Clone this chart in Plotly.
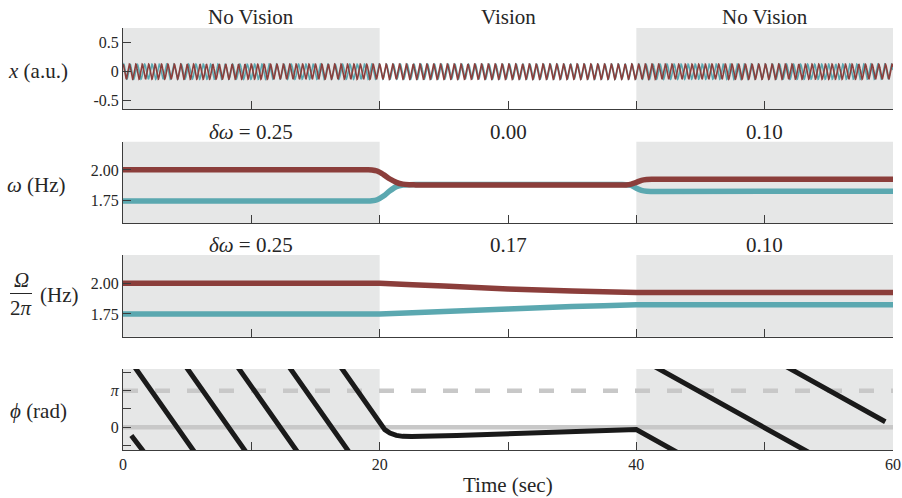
import numpy as np
import plotly.graph_objects as go

# ---------------- data ----------------
epoch_centers = [10, 30, 50]
epoch_titles = ["No Vision", "Vision", "No Vision"]
shaded_epochs = [(0, 20), (40, 60)]
dw_omega_text = ["<i>δω</i> = 0.25", "0.00", "0.10"]
dw_Omega_text = ["<i>δω</i> = 0.25", "0.17", "0.10"]

# instantaneous frequency omega (Hz)
omega_t_red = [0, 18.6, 19.0, 19.4, 19.8, 20.3, 20.8, 21.3, 21.8, 22.3, 22.8, 38.4, 38.8, 39.2,
               39.6, 40.0, 40.4, 40.8, 41.2, 41.6, 60]
omega_red = [2.001, 2.001, 2.001, 2.000, 1.991, 1.962, 1.926, 1.899, 1.884, 1.879, 1.878, 1.878, 1.878,
             1.878, 1.884, 1.899, 1.915, 1.922, 1.924, 1.924, 1.924]
omega_t_teal = [0, 18.6, 19.0, 19.4, 19.8, 20.3, 20.8, 21.3, 21.8, 22.3, 22.8, 38.4, 38.8, 39.2,
                39.6, 40.0, 40.4, 40.8, 41.2, 41.6, 60]
omega_teal = [1.746, 1.746, 1.746, 1.748, 1.757, 1.787, 1.830, 1.864, 1.877, 1.880, 1.881, 1.881, 1.881,
              1.880, 1.873, 1.851, 1.833, 1.826, 1.825, 1.825, 1.826]

# Omega / 2pi (Hz)
Omega_t = [0, 19, 20, 25, 30, 35, 40, 41, 60]
Omega_red = [2.0, 2.0, 2.0, 1.977, 1.954, 1.936, 1.925, 1.924, 1.924]
Omega_teal = [1.75, 1.75, 1.75, 1.77, 1.79, 1.81, 1.825, 1.826, 1.826]

# relative phase phi (rad, unwrapped)
phase_t = [0.65, 19.6, 20.0, 20.4, 20.8, 21.3, 21.8, 22.5, 26.0, 30.0, 34.0, 38.0, 40.0, 59.4]
phase_val = [30.71, 0.94, 0.28, -0.20, -0.50, -0.70, -0.78, -0.80, -0.70, -0.56, -0.43, -0.29, -0.20, -12.09]

x_amp = 0.13

# ---------------- style ----------------
RED = "#8B3E3B"
TEAL = "#5BA8B0"
SHADE = "#E6E7E7"
AX = "#3c3c3c"
TXT = "#262626"
SERIF = "Liberation Serif, DejaVu Serif, serif"

W, H = 902, 498
L, R, T, B = 123, 9, 28, 48
PW, PH = W - L - R, H - T - B

def py(p):   # pixel y -> paper y
    return (H - B - p) / PH

def px(p):   # pixel x -> paper x
    return (p - L) / PW

panels_px = [(28, 109), (141.7, 223.3), (255, 336.7), (369, 450)]

fig = go.Figure()

# --- panel 1: x(t) oscillations
tt = np.linspace(0, 60, 9001)
w_red = np.interp(tt, omega_t_red, omega_red)
theta_red = 2 * np.pi * np.concatenate([[0], np.cumsum((w_red[1:] + w_red[:-1]) / 2 * np.diff(tt))])
phi_dense = np.interp(tt, phase_t, phase_val)
x_red = x_amp * np.cos(theta_red)
x_teal = x_amp * np.cos(theta_red + phi_dense)
fig.add_trace(go.Scatter(x=tt, y=x_teal, mode="lines", line=dict(color=TEAL, width=1.6),
                         xaxis="x", yaxis="y", showlegend=False, hoverinfo="skip"))
fig.add_trace(go.Scatter(x=tt, y=x_red, mode="lines", line=dict(color=RED, width=1.6),
                         xaxis="x", yaxis="y", showlegend=False, hoverinfo="skip"))

# --- panel 2: omega
fig.add_trace(go.Scatter(x=omega_t_teal, y=omega_teal, mode="lines",
                         line=dict(color=TEAL, width=5.5, shape="spline", smoothing=0.8),
                         xaxis="x2", yaxis="y2", showlegend=False))
fig.add_trace(go.Scatter(x=omega_t_red, y=omega_red, mode="lines",
                         line=dict(color=RED, width=5.5, shape="spline", smoothing=0.8),
                         xaxis="x2", yaxis="y2", showlegend=False))

# --- panel 3: Omega/2pi
fig.add_trace(go.Scatter(x=Omega_t, y=Omega_teal, mode="lines",
                         line=dict(color=TEAL, width=5.5, shape="spline", smoothing=0.5),
                         xaxis="x3", yaxis="y3", showlegend=False))
fig.add_trace(go.Scatter(x=Omega_t, y=Omega_red, mode="lines",
                         line=dict(color=RED, width=5.5, shape="spline", smoothing=0.5),
                         xaxis="x3", yaxis="y3", showlegend=False))

# --- panel 4: phase, reference lines then wrapped copies of phase
fig.add_trace(go.Scatter(x=[0, 60], y=[0, 0], mode="lines", line=dict(color="#C8C8C8", width=4.5),
                         xaxis="x4", yaxis="y4", showlegend=False, hoverinfo="skip"))
fig.add_trace(go.Scatter(x=[0, 60], y=[np.pi, np.pi], mode="lines",
                         line=dict(color="#C8C8C8", width=4.5, dash="15px,17px"),
                         xaxis="x4", yaxis="y4", showlegend=False, hoverinfo="skip"))
px_all, py_all = [], []
for k in range(-2, 8):
    px_all += list(phase_t) + [None]
    py_all += [v - 2 * np.pi * k for v in phase_val] + [None]
fig.add_trace(go.Scatter(x=px_all, y=py_all, mode="lines", line=dict(color="#1a1a1a", width=5),
                         xaxis="x4", yaxis="y4", showlegend=False, connectgaps=False))

# ---------------- axes ----------------
common = dict(showline=True, linecolor=AX, linewidth=1, ticks="inside", ticklen=8, tickcolor=AX,
              tickwidth=1, showgrid=False, zeroline=False, automargin=False,
              tickfont=dict(family=SERIF, size=16, color=TXT))
yranges = [[-0.645, 0.755], [1.565, 2.23], [1.565, 2.23], [-1.95, 5.0]]
yticks = [([-0.5, 0, 0.5], ["-0.5", "0", "0.5"]),
          ([1.75, 2.0], ["1.75", "2.00"]),
          ([1.75, 2.0], ["1.75", "2.00"]),
          ([-np.pi / 2, 0, np.pi / 2, np.pi, 3 * np.pi / 2], ["", "0", "", "<i>π</i>", ""])]
layout_axes = {}
for i in range(4):
    n = "" if i == 0 else str(i + 1)
    top, bot = panels_px[i]
    layout_axes["xaxis" + n] = dict(common, domain=[0, 1], anchor="y" + n, range=[0, 60],
                                    tickvals=[0, 10, 20, 30, 40, 50, 60],
                                    ticktext=["0", "", "20", "", "40", "", "60"],
                                    showticklabels=(i == 3))
    layout_axes["yaxis" + n] = dict(common, domain=[py(bot), py(top)], anchor="x" + n,
                                    range=yranges[i], tickvals=yticks[i][0], ticktext=yticks[i][1])

fig.update_layout(**layout_axes)

shapes = []
for i in range(4):
    n = "" if i == 0 else str(i + 1)
    for (a, b) in shaded_epochs:
        shapes.append(dict(type="rect", xref="x" + n, yref="y" + n + " domain", x0=a, x1=b, y0=0, y1=1,
                           fillcolor=SHADE, line=dict(width=0), layer="below"))
# fraction bar for Omega / 2pi label
shapes.append(dict(type="line", xref="paper", yref="paper", x0=px(10), x1=px(32), y0=py(293.5), y1=py(293.5),
                   line=dict(color=TXT, width=1)))

ann = []
tf = dict(family=SERIF, size=21, color=TXT)
for c, t in zip(epoch_centers, epoch_titles):
    ann.append(dict(x=c, xref="x", y=py(17), yref="paper", text=t, showarrow=False, font=tf,
                    xanchor="center", yanchor="middle"))
for c, t in zip(epoch_centers, dw_omega_text):
    ann.append(dict(x=c, xref="x2", y=py(131.5), yref="paper", text=t, showarrow=False, font=tf,
                    xanchor="center", yanchor="middle"))
for c, t in zip(epoch_centers, dw_Omega_text):
    ann.append(dict(x=c, xref="x3", y=py(245), yref="paper", text=t, showarrow=False, font=tf,
                    xanchor="center", yanchor="middle"))

ylab = [("<i>x</i> (a.u.)", 38, 71), ("<i>ω</i> (Hz)", 36, 185), ("<i>ϕ</i> (rad)", 38, 411)]
for t, xp, yp in ylab:
    ann.append(dict(x=px(xp), xref="paper", y=py(yp), yref="paper", text=t, showarrow=False, font=tf,
                    xanchor="center", yanchor="middle"))
ann.append(dict(x=px(21), xref="paper", y=py(280), yref="paper", text="<i>Ω</i>", showarrow=False, font=tf,
                xanchor="center", yanchor="middle"))
ann.append(dict(x=px(21), xref="paper", y=py(308), yref="paper", text="2<i>π</i>", showarrow=False, font=tf,
                xanchor="center", yanchor="middle"))
ann.append(dict(x=px(59), xref="paper", y=py(295), yref="paper", text="(Hz)", showarrow=False, font=tf,
                xanchor="center", yanchor="middle"))
ann.append(dict(x=30, xref="x4", y=py(485), yref="paper", text="Time (sec)", showarrow=False, font=tf,
                xanchor="center", yanchor="middle"))

fig.update_layout(width=W, height=H, margin=dict(l=L, r=R, t=T, b=B),
                  paper_bgcolor="white", plot_bgcolor="white", shapes=shapes, annotations=ann,
                  showlegend=False, font=dict(family=SERIF, color=TXT))

fig.write_html("out.html")
